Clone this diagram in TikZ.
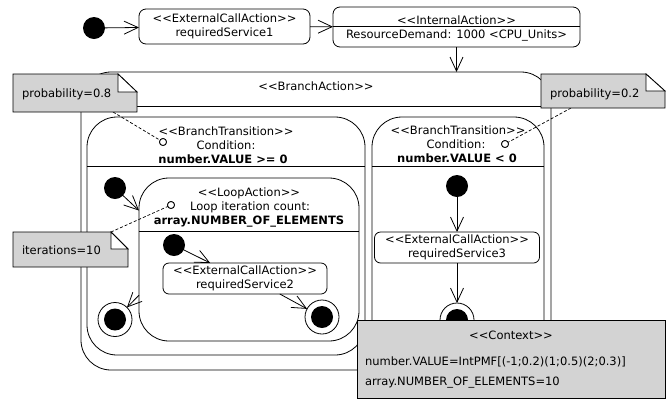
\documentclass[tikz,border=0pt]{standalone}
\usepackage{fontspec}
\setmainfont{DejaVu Sans}
\usetikzlibrary{arrows.meta}
\definecolor{notegray}{RGB}{211,211,211}
\newcommand{\sterL}{<{}<}
\newcommand{\sterR}{>{}>}
\begin{document}
\begin{tikzpicture}[x=1bp,y=-1bp,line width=0.8bp,
  font=\fontsize{11.5bp}{14bp}\selectfont,
  every node/.style={inner sep=0pt,outer sep=0pt},
  action/.style={draw,fill=white,rectangle,rounded corners=7bp,align=center},
  container/.style={draw,rectangle,rounded corners=30bp},
  startnode/.style={circle,fill=black,minimum size=22bp},
  endnode/.style={circle,draw,fill=white,minimum size=34bp,
    path picture={\fill[black] (path picture bounding box.center) circle[radius=11bp];}},
  flow/.style={-{Straight Barb[length=14bp,width=13bp]}},
  port/.style={circle,draw,fill=white,minimum size=7bp},
  anno/.style={dash pattern=on 3bp off 2bp,line width=0.7bp},
  notebody/.style={fill=notegray,draw},
  txt/.style={anchor=base}
]
\useasboundingbox (0,0) rectangle (666,399);

% ---- top row
\node[startnode] (init1) at (94,28) {};
\node[action,minimum width=171bp,minimum height=35bp] (eca1) at (224.5,26.5)
  {\sterL ExternalCallAction\sterR\\requiredService1};
\node[action,minimum width=247bp,minimum height=40bp] (ia) at (456.5,27) {};
\draw (ia.west |- 0,26) -- (ia.east |- 0,26);
\node[txt] (iat1) at (456.5,24) {\sterL InternalAction\sterR};
\node[txt] (iat2) at (456.5,38) {ResourceDemand: 1000 <CPU\_Units>};

% ---- branch action
\node[container,minimum width=470bp,minimum height=298bp] (branch) at (316,221) {};
\draw (branch.west |- 0,106) -- (branch.east |- 0,106);
\node[txt] (brt) at (316,90) {\sterL BranchAction\sterR};

% left transition
\node[container,minimum width=278bp,minimum height=238bp] (btL) at (226,236) {};
\draw (btL.west |- 0,166) -- (btL.east |- 0,166);
\node[txt] (btLt1) at (226,135) {\sterL BranchTransition\sterR};
\node[txt] (btLt2) at (226,149) {Condition:};
\node[txt] (btLt3) at (223,163) {\bfseries number.VALUE >= 0};

% right transition
\node[container,minimum width=172bp,minimum height=238bp] (btR) at (458,236) {};
\draw (btR.west |- 0,166) -- (btR.east |- 0,166);
\node[txt] (btRt1) at (458,134) {\sterL BranchTransition\sterR};
\node[txt] (btRt2) at (456,148) {Condition:};
\node[txt] (btRt3) at (457,162) {\bfseries number.VALUE < 0};

% loop action
\node[container,minimum width=220bp,minimum height=163bp] (loop) at (249,259.5) {};
\draw (loop.west |- 0,231) -- (loop.east |- 0,231);
\node[txt] (lpt1) at (249,196.5) {\sterL LoopAction\sterR};
\node[txt] (lpt2) at (250,210) {Loop iteration count:};
\node[txt] (lpt3) at (249,224) {\bfseries array.NUMBER\_OF\_ELEMENTS};

% inner flow of left transition
\node[startnode] (init2) at (115,188) {};
\node[endnode] (final2) at (115,319.5) {};
\node[startnode] (init3) at (174,245) {};
\node[action,rounded corners=6bp,minimum width=164bp,minimum height=31bp] (eca2) at (245,278.5)
  {\sterL ExternalCallAction\sterR\\requiredService2};
\node[endnode] (final3) at (322,317) {};

% inner flow of right transition
\node[startnode] (init4) at (457,186) {};
\node[action,rounded corners=6bp,minimum width=165bp,minimum height=31bp] (eca3) at (457,247.5)
  {\sterL ExternalCallAction\sterR\\requiredService3};
\node[endnode] (final4) at (457,320) {};

% ---- control flow
\draw[flow] (init1) -- (eca1);
\draw[flow] (eca1) -- (ia);
\draw[flow] (ia.south) -- (ia.south |- branch.north);
\draw[flow] (init2) -- (loop.156);
\draw[flow] (loop.198) -- (final2);
\draw[flow] (init3) -- (eca2.156);
\draw[flow] (eca2.-24) -- (final3);
\draw[flow] (init4) -- (eca3);
\draw[flow] (eca3) -- (final4);

% ---- annotations
\coordinate (n08) at (113,112);
\coordinate (n02) at (571,108);
\coordinate (n10) at (111,232);
\node[port] (portL) at (163,142) {};
\node[port] (portR) at (505,144) {};
\node[port] (portLoop) at (171,205) {};
\draw[anno] (n08) -- (portL);
\draw[anno] (n02) -- (portR);
\draw[anno] (n10) -- (portLoop);
\node[port] at (portL) {};
\node[port] at (portR) {};
\node[port] at (portLoop) {};

% note probability=0.8
\path[notebody] (13,74) -- (118,74) -- (137,92) -- (137,112) -- (13,112) -- cycle;
\path[draw,fill=white] (118,74) -- (118,92) -- (137,92) -- cycle;
\node[anchor=base west] (note08) at (22,97) {probability=0.8};

% note probability=0.2
\path[notebody] (541,74) -- (646,74) -- (665,91) -- (665,108) -- (541,108) -- cycle;
\path[draw,fill=white] (646,74) -- (646,91) -- (665,91) -- cycle;
\node[anchor=base west] (note02) at (550,97) {probability=0.2};

% note iterations=10
\path[notebody] (13,232) -- (111,232) -- (128,249) -- (128,267) -- (13,267) -- cycle;
\path[draw,fill=white] (111,232) -- (111,249) -- (128,249) -- cycle;
\node[anchor=base west] (note10) at (22,254) {iterations=10};

% ---- context
\node[draw,fill=notegray,minimum width=308bp,minimum height=78bp] (context) at (511,359) {};
\node[txt] (ctx1) at (511,339) {\sterL Context\sterR};
\node[anchor=base west] (ctx2) at (365,365) {number.VALUE=IntPMF[(-1;0.2)(1;0.5)(2;0.3)]};
\node[anchor=base west] (ctx3) at (365,385) {array.NUMBER\_OF\_ELEMENTS=10};
\end{tikzpicture}
\end{document}
